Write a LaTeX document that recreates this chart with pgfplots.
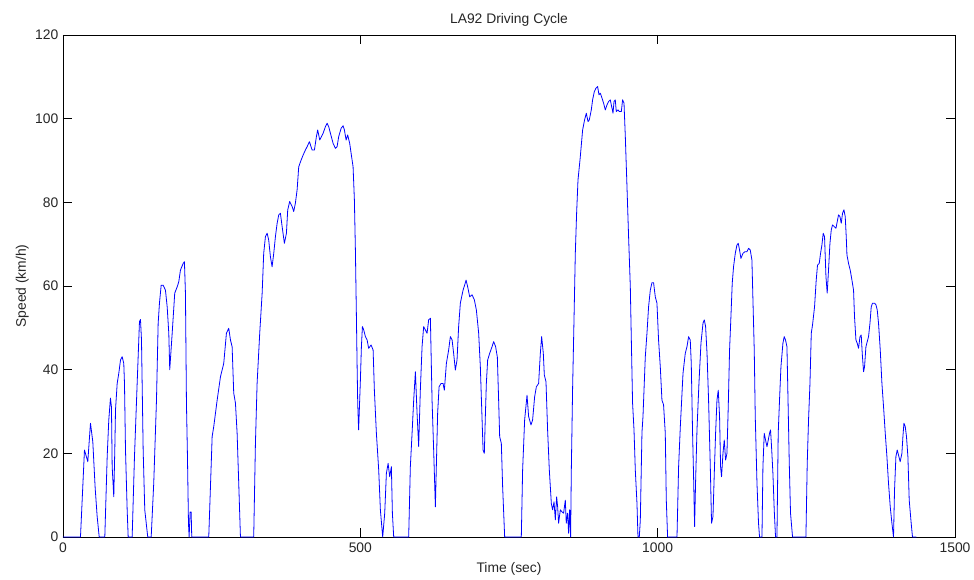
\documentclass[border=0pt]{standalone}
\usepackage{pgfplots}
\pgfplotsset{compat=1.18}
\usepackage{fontspec}
\setmainfont{Liberation Sans}
\begin{document}
\begin{tikzpicture}
\path[use as bounding box] (-47.25pt,-31.5pt) rectangle (683.25pt,402.75pt);
\begin{axis}[
  at={(0pt,0pt)}, anchor=south west,
  scale only axis, width=669pt, height=376.5pt,
  xmin=0, xmax=1500, ymin=0, ymax=120,
  xtick={0,500,1000,1500}, ytick={0,20,40,60,80,100,120},
  tick align=inside, major tick length=6.5pt,
  tick style={black, line width=0.5pt},
  axis line style={black, line width=0.6pt},
  /pgf/number format/assume math mode=true,
  /pgf/number format/1000 sep={},
  ticklabel style={font=\fontsize{10.4pt}{12pt}\selectfont, text=black!85},
  xticklabel style={yshift=-1pt},
  title={LA92 Driving Cycle},
  title style={font=\fontsize{10.4pt}{12pt}\selectfont, text=black!85, yshift=-3pt},
  xlabel={Time (sec)}, ylabel={Speed (km/h)},
  label style={font=\fontsize{10.4pt}{12pt}\selectfont, text=black!85},
  xlabel style={yshift=0pt},
  ylabel style={yshift=-2pt},
]
\addplot[color={rgb,1:red,0;green,0;blue,1}, line width=0.6pt, line join=round] coordinates {
(0,0)(29.4,0)(36.1,20.8)(41.7,18)(46.2,27.2)(50.1,22.8)(54.1,11.7)(57.5,4.8)(60.9,0)
(70.3,0)(74.3,19.2)(77,28)(79.8,33.2)(81.5,31)(82.7,16.8)(85.4,9.6)(87.1,20.8)(88.3,30.4)(91.1,36.7)(93.8,39.1)(96.7,42.3)(99.5,43.1)(102.2,41.5)(103.4,36.7)(105.1,20.8)(107.9,6.5)(109.6,0)
(116.3,0)(120.2,19.2)(124.7,36.7)(128.6,51.5)(130.3,52)(132,47.1)(134.8,20.8)(137.5,6.5)(142.5,0)
(148.3,0)(152.6,12.9)(157.2,32.7)(160,51)(162.2,55.9)(165.1,60.2)(168.4,60.2)(172.3,59)(175.2,55)(177.9,48.7)(179.5,40)(183.6,48.7)(187.9,58.3)(192,59.8)(194.7,61)(197.5,63.8)(202.1,65.4)(204.2,65.8)(205.9,58.3)(207.6,32)(209.3,19.2)(211,3.3)(212.1,0)(213.8,6)(215.5,6)(216.5,0)
(245.1,0)(249.1,16.8)(250.8,24)(253.5,26.4)(259.2,32.7)(264.8,38.3)(270.3,41.5)(274.8,48.7)(278.7,49.9)(281.6,47.1)(284.4,45.5)(287.1,34.4)(290,32)(292.8,24.8)(295.5,12.9)(298.4,0)
(320.7,0)(323.6,22.4)(326.4,36.7)(330.8,48.7)(334.9,58.3)(337.5,67.8)(340.4,71.8)(343.3,72.6)(345.9,71)(348.8,67)(351.6,64.6)(354.4,67.8)(357.2,71.8)(360.1,75)(362.8,77)(365.6,77.4)(368.5,74.2)(372.3,70.2)(375.7,72.6)(377.9,78.2)(381.2,80.2)(385.3,79)(388,77.8)(390.8,79.8)(393.7,83)(396.4,88.5)(400.4,90.1)(403.8,91.3)(407.6,92.5)(410.5,93.3)(414.4,94.5)(418.9,92.5)(422.8,92.5)(426.1,95.7)(428.3,97.3)(431.7,94.9)(434.5,95.7)(437.4,96.5)(441.3,98.1)(444.1,98.9)(446.8,98.1)(449.7,96.5)(454.2,94.1)(458.1,92.9)(460.9,93.3)(463.6,95.7)(467.7,97.7)(471,98.3)(473.2,97.3)(476.1,94.9)(478.7,96.1)(482.1,94.1)(484.5,91.7)(487.8,88.5)(490,80.6)(491.7,68.6)(493.4,52.7)(494.6,40.7)(495.6,32)(497.1,25.6)(498.9,32.7)(500.1,37.5)(501.8,45.5)(503.5,50.3)(505.7,49.5)(508.5,47.9)(511.4,47.1)(514,45.1)(518.1,45.9)(521.5,44.7)(523.6,35.1)(527,24.8)(530.9,16)(533.7,6.5)(537.6,0)
(541,5.7)(543.8,15.2)(546.7,17.6)(549.4,14.4)(552.2,16.8)(553.9,5.7)(556.1,0)
(581.3,0)(584.1,16.8)(587,24.8)(589.7,32.7)(592.6,39.5)(595.4,29.6)(598.1,21.6)(600.9,35.1)(603.8,45.5)(606.5,50.3)(609.4,49.5)(612.2,48.7)(614.9,51.9)(617.8,52.3)(620.6,32.7)(623.3,20.8)(626.2,7.2)(627.8,16.8)(630,29.6)(632.4,35.9)(635.7,36.7)(639.1,36.7)(641.3,35.1)(644.7,41.5)(648.5,44.7)(651.4,47.9)(654.3,47.1)(656.9,43.9)(659.8,39.9)(662.6,42.3)(665.3,50.3)(668.2,55.9)(672.7,59)(675.4,60.2)(677.8,61.4)(680.5,59.8)(683.9,57.4)(687.9,57.9)(691.7,56.7)(695.1,54.3)(699,48.7)(701.8,40.7)(704,31.2)(706.4,20.8)(708.5,20)(710.2,28.8)(711.9,36.7)(714.1,42.3)(717.5,43.9)(721.5,45.5)(724.2,46.7)(727.5,45.5)(730.4,43)(732.6,32.5)(734.3,24)(737.1,22.4)(739.3,12)(742.7,0)
(770.7,0)(772.9,16)(776.3,28)(780.3,33.9)(783,28.8)(787,26.8)(789.7,28)(793.1,33.5)(796,35.9)(799.8,36.7)(802.7,43.9)(804.9,47.9)(807.7,43.9)(809.4,38.7)(812.2,37.1)(814.9,25.6)(817.8,16)(821.2,8)(823.3,6.5)(825.7,8.4)(827.9,4.1)(830.1,9.6)(831.8,7.2)(833.4,3.3)(836.3,6.5)(839.1,6)(841.8,5.7)(844.7,8.8)(846.3,3.3)(848.6,5.7)(850.2,0.9)(851.9,6.5)(853.6,0)
(854.8,16)(857,35.9)(859.3,51.9)(861.5,67.8)(863.7,77.4)(866,85.3)(869.9,90.9)(873.8,97.3)(877.1,99.7)(880,101.3)(882.9,99.3)(885,99.7)(888.4,102.1)(890.6,104.5)(893.5,106.5)(896.3,107.3)(899,107.7)(901.3,105.7)(903.5,106.1)(906.4,104.9)(909.1,103.7)(911.9,102.1)(914.8,103.3)(917.5,104.1)(920.3,104.5)(923.2,102.5)(924.9,101.3)(926.6,104.1)(928.7,104.5)(930.4,101.7)(933.3,102.1)(935.5,101.7)(938.9,101.7)(941,104.5)(943.4,103.7)(945.6,95.7)(948.4,83.7)(951.1,71.8)(954,59.8)(955.6,47.9)(957.8,32)(960.2,25.6)(962.4,16)(965.2,8)(966.9,0)
(969.1,0)(970.8,4)(973.6,25)(975.3,28.8)(979.2,43.1)(982,48.7)(984.7,55)(987.6,59)(990.4,60.8)(993.1,60.8)(996,57.4)(998.8,55.9)(1001.5,47.1)(1004.4,40.7)(1007.2,32.7)(1009.9,31.6)(1012.8,24.8)(1014.5,8.8)(1016.7,0)
(1032.5,0)(1035.2,16.8)(1038.1,26.4)(1042.6,39.1)(1046.4,43.9)(1049.3,45.5)(1052,47.9)(1054.8,47.1)(1056.5,41.5)(1058.7,24.8)(1060.4,14.4)(1062.1,2.5)(1063.7,12.8)(1066.1,25.6)(1069.4,36.7)(1072.8,46.3)(1076.2,51.1)(1078.4,51.9)(1080.6,50.3)(1083,43.9)(1085.6,32.7)(1088.5,16.8)(1090.6,3.3)(1093,4.9)(1095.2,15.2)(1097.4,24.8)(1099.7,32.7)(1101.9,35.1)(1104.1,28.8)(1105.8,16.8)(1107.4,14.4)(1109.8,20)(1112,23.2)(1114.2,18.4)(1116.5,20)(1118.7,31.2)(1120.9,44.7)(1123.2,52.7)(1125.4,60.7)(1127.6,64.6)(1130.5,67.8)(1133.3,69.8)(1135.5,70.2)(1137.7,68.6)(1140,66.6)(1143.4,67.8)(1146.7,68.2)(1150.1,68.2)(1152.8,69)(1155.7,68.6)(1158.5,66.2)(1160.2,56.7)(1162.4,44.7)(1164.1,28.8)(1167,12.8)(1169.6,3.3)(1171.3,0)
(1175.4,0)(1177,16.8)(1179.2,24.8)(1181.4,23.2)(1183.8,21.6)(1186,23.2)(1188.1,24.8)(1189.8,25.6)(1191.5,21.6)(1193.8,15.2)(1196,6.5)(1198.2,0)
(1200.6,0)(1202.7,24.8)(1204.9,32.7)(1207.3,40.7)(1210.6,46.3)(1212.8,47.9)(1215,47.1)(1217.4,45.5)(1219.1,33.5)(1221.3,17.6)(1223.4,5.7)(1226.8,0)
(1249.3,0)(1251.5,17.6)(1253.7,28)(1256.1,36.7)(1258.3,48.7)(1260.4,50.7)(1263.8,55)(1266.6,61.4)(1268.8,65)(1271.7,65.4)(1273.9,67.8)(1276.2,69.8)(1278.4,72.6)(1280.6,71.8)(1283,62.2)(1285.1,58.3)(1287.3,63.8)(1289.7,70.2)(1291.9,73.4)(1294,74.6)(1296.9,74.2)(1299.8,73.8)(1302,75.4)(1304.1,77)(1306.5,76.6)(1308.7,75)(1310.9,77.4)(1313.2,78.2)(1315.4,76.6)(1317.1,71.8)(1318.3,67.4)(1321,65.4)(1323.8,63.8)(1326.7,61.4)(1329.4,59)(1331,52.7)(1333.4,47.1)(1335.6,46.3)(1337.8,45.1)(1340.2,47.9)(1342.3,48.3)(1344,43.9)(1346.2,39.5)(1347.9,40.7)(1350.2,45.5)(1352.4,46.7)(1354.6,47.9)(1357,51.1)(1359.1,55)(1361.3,55.9)(1364.7,55.9)(1367.1,55.5)(1369.2,54.3)(1371.4,51.1)(1374.3,44.7)(1377.1,36.7)(1379.8,31.2)(1382.7,24.8)(1385.5,19.2)(1388.2,12.8)(1391.1,7.2)(1393.9,3.3)(1396.6,0)
(1398.3,11.2)(1400.6,19.2)(1402.8,20.8)(1405,19.6)(1407.8,18)(1410.7,20)(1412.4,24)(1414.1,27.2)(1416.3,26.4)(1418.4,24)(1420.8,19.2)(1423,8.8)(1426.3,3.3)(1428.5,0)(1435,0)
};
\end{axis}
\end{tikzpicture}
\end{document}
